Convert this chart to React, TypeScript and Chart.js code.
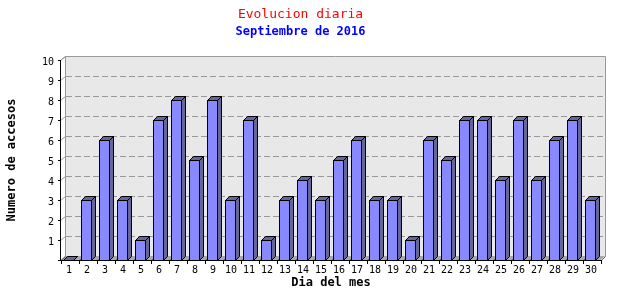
import { useEffect, useRef } from 'react';
import { Chart, registerables } from 'chart.js';

Chart.register(...registerables);

const days = ['1', '2', '3', '4', '5', '6', '7', '8', '9', '10', '11', '12', '13', '14', '15', '16', '17', '18', '19', '20', '21', '22', '23', '24', '25', '26', '27', '28', '29', '30'];
const visits = [0, 3, 6, 3, 1, 7, 8, 5, 8, 3, 7, 1, 3, 4, 3, 5, 6, 3, 3, 1, 6, 5, 7, 7, 4, 7, 4, 6, 7, 3];
const yMin = 0;
const yMax = 10;
const yStep = 1;

const titleText = 'Evolucion diaria';
const subtitleText = 'Septiembre de 2016';
const xTitle = 'Dia del mes';
const yTitle = 'Numero de accesos';

const FONT = 'DejaVu Sans Mono';
const D = 4;
const FRONT = '#8888ff';
const SIDE = '#666699';

const bar3d = {
  id: 'bar3d',
  beforeDatasetsDraw(chart: any) {
    const { ctx, chartArea: a, scales } = chart;
    const y = scales.y;
    const L = Math.round(a.left);
    const R = Math.round(a.right);
    const T = Math.round(a.top);
    const B = Math.round(a.bottom);
    ctx.save();
    ctx.fillStyle = '#e8e8e8';
    ctx.fillRect(L + D, T - D, R - L, B - T);
    ctx.fillStyle = '#a8a8a8';
    ctx.beginPath();
    ctx.moveTo(L, B);
    ctx.lineTo(L + D, B - D);
    ctx.lineTo(R + D, B - D);
    ctx.lineTo(R, B);
    ctx.closePath();
    ctx.fill();
    ctx.strokeStyle = '#999999';
    ctx.lineWidth = 1;
    ctx.beginPath();
    ctx.moveTo(L + D + 0.5, B - D);
    ctx.lineTo(L + D + 0.5, T - D + 0.5);
    ctx.lineTo(R + D + 0.5, T - D + 0.5);
    ctx.lineTo(R + D + 0.5, B - D + 0.5);
    ctx.lineTo(R + 0.5, B + 0.5);
    ctx.stroke();
    ctx.beginPath();
    ctx.moveTo(L - 0.5, T + 0.5);
    ctx.lineTo(L + D + 0.5, T - D + 0.5);
    ctx.stroke();
    ctx.setLineDash([6, 3]);
    y.ticks.forEach((t: any) => {
      if (t.value <= yMin || t.value >= yMax) return;
      const py = Math.round(y.getPixelForValue(t.value)) - D + 0.5;
      ctx.beginPath();
      ctx.moveTo(L + D + 1, py);
      ctx.lineTo(R + D, py);
      ctx.stroke();
    });
    ctx.setLineDash([]);
    y.ticks.forEach((t: any) => {
      const py = Math.round(y.getPixelForValue(t.value));
      ctx.beginPath();
      ctx.moveTo(L - 0.5, py + 0.5);
      ctx.lineTo(L + D + 0.5, py - D + 0.5);
      ctx.stroke();
    });
    ctx.strokeStyle = '#666666';
    const n = days.length;
    for (let i = 0; i <= n; i++) {
      const px = Math.round(L + ((R - L) * i) / n);
      ctx.beginPath();
      ctx.moveTo(px + 0.5, B + 0.5);
      ctx.lineTo(px + D + 0.5, B - D + 0.5);
      ctx.stroke();
    }
    ctx.restore();
  },
  afterDatasetsDraw(chart: any) {
    const { ctx, chartArea: a, scales } = chart;
    const y = scales.y;
    const L = Math.round(a.left);
    const R = Math.round(a.right);
    const T = Math.round(a.top);
    const B = Math.round(a.bottom);
    const meta = chart.getDatasetMeta(0);
    ctx.save();
    ctx.lineWidth = 1;
    ctx.strokeStyle = '#000000';
    meta.data.forEach((el: any) => {
      const p = el.getProps(['x', 'y', 'base'], true);
      const fl = Math.round(p.x) - 7;
      const fr = fl + 10;
      const ty = Math.round(p.y);
      const base = Math.round(p.base);
      ctx.fillStyle = SIDE;
      ctx.beginPath();
      ctx.moveTo(fr + 0.5, ty + 0.5);
      ctx.lineTo(fr + D + 0.5, ty - D + 0.5);
      ctx.lineTo(fr + D + 0.5, base - D + 0.5);
      ctx.lineTo(fr + 0.5, base + 0.5);
      ctx.closePath();
      ctx.fill();
      ctx.stroke();
      ctx.beginPath();
      ctx.moveTo(fl + 0.5, ty + 0.5);
      ctx.lineTo(fl + D + 0.5, ty - D + 0.5);
      ctx.lineTo(fr + D + 0.5, ty - D + 0.5);
      ctx.lineTo(fr + 0.5, ty + 0.5);
      ctx.closePath();
      ctx.fill();
      ctx.stroke();
      if (base > ty) {
        ctx.fillStyle = FRONT;
        ctx.fillRect(fl, ty, 10, base - ty);
        ctx.strokeRect(fl + 0.5, ty + 0.5, 10, base - ty);
      }
    });
    ctx.beginPath();
    ctx.moveTo(L - 0.5, T);
    ctx.lineTo(L - 0.5, B + 1);
    ctx.stroke();
    y.ticks.forEach((t: any) => {
      const py = Math.round(y.getPixelForValue(t.value)) + 0.5;
      ctx.beginPath();
      ctx.moveTo(L - 3, py);
      ctx.lineTo(L, py);
      ctx.stroke();
    });
    ctx.beginPath();
    ctx.moveTo(L - 1, B + 0.5);
    ctx.lineTo(R + 1, B + 0.5);
    ctx.stroke();
    const n = days.length;
    for (let i = 0; i <= n; i++) {
      const px = Math.round(L + ((R - L) * i) / n) + 0.5;
      ctx.beginPath();
      ctx.moveTo(px, B);
      ctx.lineTo(px, B + 4);
      ctx.stroke();
    }
    ctx.restore();
  },
};

export default function App() {
  const ref = useRef<HTMLCanvasElement | null>(null);
  useEffect(() => {
    if (!ref.current) return;
    const chart = new Chart(ref.current, {
      type: 'bar',
      data: {
        labels: days,
        datasets: [
          {
            data: visits,
            backgroundColor: 'rgba(0,0,0,0)',
            borderWidth: 0,
          },
        ],
      },
      plugins: [bar3d],
      options: {
        responsive: false,
        animation: false,
        devicePixelRatio: 1,
        layout: { padding: { left: 0, right: 39, top: 0, bottom: 0 } },
        plugins: {
          legend: { display: false },
          tooltip: { enabled: false },
          title: {
            display: true,
            text: titleText,
            color: '#ff0000',
            font: { family: FONT, size: 13, weight: 'normal' },
            padding: { top: 7, bottom: 2 },
          },
          subtitle: {
            display: true,
            text: subtitleText,
            color: '#0000ff',
            font: { family: FONT, size: 12, weight: 'bold' },
            padding: { top: 0, bottom: 21 },
          },
        },
        scales: {
          x: {
            grid: { display: false, drawTicks: false },
            border: { display: false },
            ticks: {
              color: '#000000',
              font: { family: FONT, size: 10 },
              padding: 4,
              maxRotation: 0,
              autoSkip: false,
              labelOffset: -1,
            },
            title: {
              display: true,
              text: xTitle,
              color: '#000000',
              font: { family: FONT, size: 12, weight: 'bold' },
              padding: { top: 0, bottom: 10 },
            },
            afterFit(s: any) {
              s.height = 40;
            },
          },
          y: {
            min: yMin,
            max: yMax,
            grid: { display: false, drawTicks: false },
            border: { display: false },
            ticks: {
              stepSize: yStep,
              color: '#000000',
              font: { family: FONT, size: 10 },
              padding: 7,
              labelOffset: 2,
              callback: (v: any) => (Number(v) === 0 ? '' : String(v)),
            },
            title: {
              display: true,
              text: yTitle,
              color: '#000000',
              font: { family: FONT, size: 12, weight: 'bold' },
              padding: { top: 5, bottom: 0 },
            },
            afterFit(s: any) {
              s.width = 61;
            },
          },
        },
      } as any,
    });
    return () => chart.destroy();
  }, []);
  return (
    <div style={{ position: 'absolute', left: 0, top: 0, width: 640, height: 300, background: '#ffffff' }}>
      <canvas ref={ref} width={640} height={300} />
    </div>
  );
}
